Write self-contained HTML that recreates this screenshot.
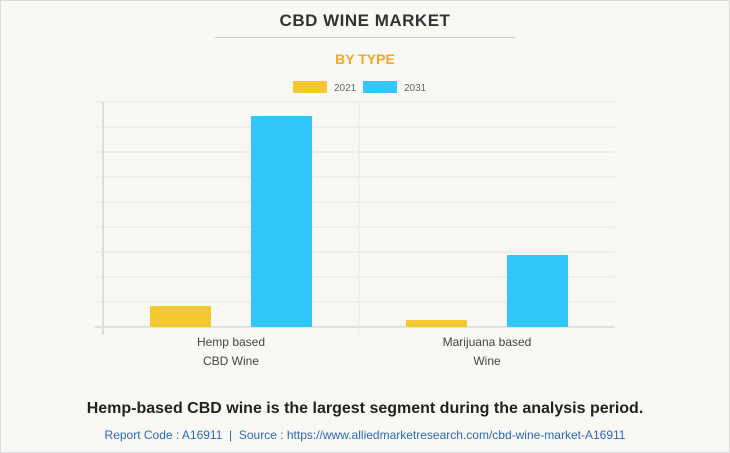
<!DOCTYPE html>
<html><head><meta charset="utf-8"><style>
body{margin:0;width:730px;height:453px;background:#fff;font-family:"Liberation Sans",sans-serif;overflow:hidden}
#frame{position:absolute;left:0;top:0;width:728px;height:451px;border:1px solid #ddd;background:#f9f8f4}
.t{position:absolute;left:0;width:730px;text-align:center}
</style></head><body>
<div id="frame"></div>
<div class="t" style="top:11px;font-size:17px;font-weight:bold;color:#333;letter-spacing:0.5px">CBD WINE MARKET</div>
<div style="position:absolute;left:215px;top:37px;width:300px;height:1px;background:#ccc"></div>
<div class="t" style="top:51px;font-size:14px;font-weight:bold;color:#f5a623">BY TYPE</div>
<svg id="chart" width="730" height="453" style="position:absolute;left:0;top:0"></svg>
<div class="t" style="top:400px;font-size:16px;font-weight:bold;color:#222">Hemp-based CBD wine is the largest segment during the analysis period.</div>
<div class="t" style="top:428px;font-size:12px;color:#2a6ab8">Report Code : A16911 &nbsp;|&nbsp; Source : https://www.alliedmarketresearch.com/cbd-wine-market-A16911</div>
<script>
const categories=[["Hemp based","CBD Wine"],["Marijuana based","Wine"]];
const series2021=[0.84,0.28];
const series2031=[8.44,2.88];
const seriesNames=["2021","2031"];
const colors=["#f5c832","#33c6fd"];
const NS="http://www.w3.org/2000/svg";
const svg=document.getElementById('chart');
const x0=103,x1=615,yB=327,yT=102,maxV=9;
const y=v=>yB-(v/maxV)*(yB-yT);
const bandW=(x1-x0)/categories.length;
function mk(t,a){const e=document.createElementNS(NS,t);for(const k in a)e.setAttribute(k,a[k]);svg.appendChild(e);return e;}
for(let i=0;i<=maxV;i++){
 const l=mk('line',{x1:95,x2:x1,y1:y(i),y2:y(i),stroke:i==0?'#ccc':'#e6e6e6','stroke-width':1});
 
 
}
for(let c=0;c<=categories.length;c++){
 if(c==categories.length)break;
 const l=mk('line',{x1:x0+c*bandW,x2:x0+c*bandW,y1:yT,y2:yB+8,stroke:c==0?'#ddd':'#e6e6e6','stroke-width':c==0?2:1});
 
 
}
const all=[series2021,series2031];
categories.forEach((cat,i)=>{
 const cx=x0+bandW*i+bandW/2;
 all.forEach((s,j)=>{
  const bx=x0+bandW*i+47+j*101;
  const r=mk('rect',{x:bx,y:y(s[i]),width:61,height:yB-y(s[i]),fill:colors[j]});
  
  
 });
 cat.forEach((ln,k)=>{
  const t=mk('text',{x:cx,y:346+k*19,'text-anchor':'middle','font-size':12,fill:'#444','font-family':'Liberation Sans'});
  t.textContent=ln;
  
  
 });
});
seriesNames.forEach((n,j)=>{
 const lx=293+j*70;
 const r=mk('rect',{x:lx,y:81,width:34,height:12,fill:colors[j]});
 
 
 const t=mk('text',{x:lx+41,y:91,'font-size':10,fill:'#666','font-family':'Liberation Sans'});
 t.textContent=n;
 
 
});
</script>
</body></html>
